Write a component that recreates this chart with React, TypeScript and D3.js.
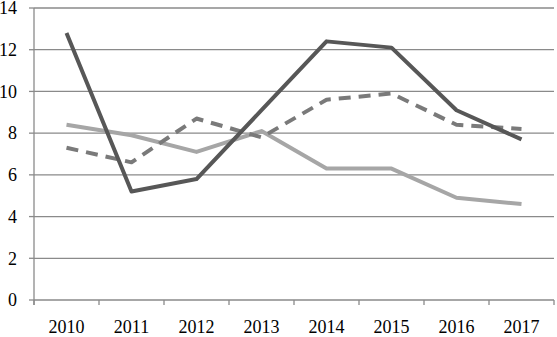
import React from "react";
import * as d3 from "d3";

const years = ["2010", "2011", "2012", "2013", "2014", "2015", "2016", "2017"];
const darkSeries = [12.8, 5.2, 5.8, 9.1, 12.4, 12.1, 9.1, 7.7];
const dashedSeries = [7.3, 6.6, 8.7, 7.8, 9.6, 9.9, 8.4, 8.2];
const lightSeries = [8.4, 7.9, 7.1, 8.1, 6.3, 6.3, 4.9, 4.6];
const yTicks = [0, 2, 4, 6, 8, 10, 12, 14];

const W = 557, H = 337;
const margin = { top: 8, right: 3, bottom: 37, left: 34 };

export default function App() {
  const x = d3.scaleBand().domain(years).range([margin.left, W - margin.right]);
  const y = d3.scaleLinear().domain([0, 14]).range([H - margin.bottom, margin.top]);
  const line = d3.line<number>()
    .x((_, i) => (x(years[i]) as number) + x.bandwidth() / 2)
    .y(d => y(d));

  const series = [
    { values: lightSeries, color: "#a6a6a6", dash: null },
    { values: dashedSeries, color: "#7a7a7a", dash: "12,8" },
    { values: darkSeries, color: "#575757", dash: null },
  ];
  const edges = years.map(d => x(d) as number).concat([W - margin.right]);
  const y0 = y(0);

  return (
    <svg width={W} height={H} style={{ position: "absolute", left: 0, top: 0, background: "#fff" }}
      fontFamily="'Liberation Serif', 'Times New Roman', serif" fontSize={18}>
      {yTicks.filter(t => t > 0).map(t => (
        <line key={t} x1={margin.left} x2={W - margin.right} y1={y(t)} y2={y(t)} stroke="#8a8a8a" strokeWidth={1.3} />
      ))}
      <line x1={margin.left} x2={W - margin.right} y1={y0} y2={y0} stroke="#8a8a8a" strokeWidth={1.3} />
      <line x1={margin.left} x2={margin.left} y1={margin.top} y2={y0 + 5} stroke="#8a8a8a" strokeWidth={1.3} />
      {yTicks.map(t => (
        <g key={t}>
          <line x1={margin.left - 5} x2={margin.left} y1={y(t)} y2={y(t)} stroke="#8a8a8a" strokeWidth={1.3} />
          <text x={17} y={y(t)} dy="0.35em" textAnchor="end" fill="#000">{t}</text>
        </g>
      ))}
      {edges.map((e, i) => (
        <line key={i} x1={e} x2={e} y1={y0} y2={y0 + 5} stroke="#8a8a8a" strokeWidth={1.3} />
      ))}
      {years.map(d => (
        <text key={d} x={(x(d) as number) + x.bandwidth() / 2} y={y0 + 33} textAnchor="middle" fill="#000">{d}</text>
      ))}
      {series.map((s, i) => (
        <path key={i} d={line(s.values) as string} fill="none" stroke={s.color} strokeWidth={4}
          strokeDasharray={s.dash ?? undefined} strokeLinejoin="round" />
      ))}
    </svg>
  );
}
